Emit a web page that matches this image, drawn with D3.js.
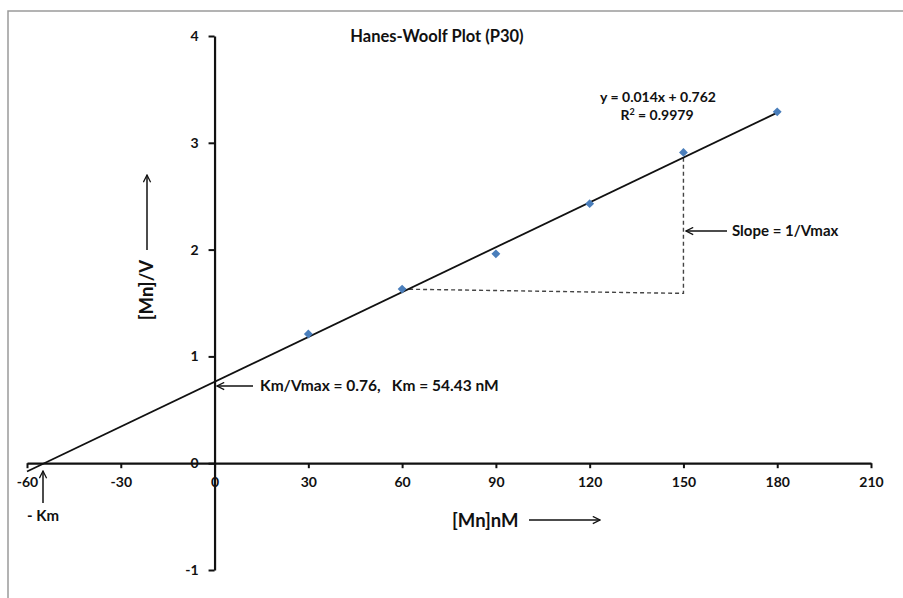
<!DOCTYPE html>
<html>
<head>
<meta charset="utf-8">
<script src="https://cdn.jsdelivr.net/npm/d3@7"></script>
<style>
  body { margin: 0; background: #fff; }
  svg text { font-family: Lato, "Open Sans", sans-serif; font-weight: bold; fill: #111; }
</style>
</head>
<body>
<svg id="chart" width="903" height="598"></svg>
<script>
// Substrate concentration [Mn] (nM) and [Mn]/V values
const concentrations = [30, 60, 90, 120, 150, 180];
const ratioValues = [1.21, 1.63, 1.96, 2.43, 2.91, 3.29];

// Linear fit y = slope * x + intercept
const fitSlope = 0.014;
const fitIntercept = 0.762;
const fitR2 = 0.9979;
const fitRange = [-60, 180];

// Axis ticks
const xTicks = [-60, -30, 0, 30, 60, 90, 120, 150, 180, 210];
const yTicks = [-1, 0, 1, 2, 3, 4];

// Slope triangle corners (x, y)
const triangle = [[60, 1.63], [150, 1.59], [150, 2.91]];

const svg = d3.select("#chart");

const x = d3.scaleLinear().domain([-60, 210]).range([27, 871]);
const y = d3.scaleLinear().domain([-1, 4]).range([570, 36]);

// outer frame (top and left edges visible)
svg.append("path")
  .attr("d", "M8,598 L8,11 L903,11")
  .attr("fill", "none").attr("stroke", "#9a9a9a").attr("stroke-width", 1.5);

svg.append("defs").append("marker")
  .attr("id", "arrow").attr("viewBox", "0 0 10 10")
  .attr("refX", 9).attr("refY", 5)
  .attr("markerWidth", 9).attr("markerHeight", 9)
  .attr("markerUnits", "userSpaceOnUse")
  .attr("orient", "auto")
  .append("path").attr("d", "M1,1 L9,5 L1,9")
  .attr("fill", "none").attr("stroke", "#111").attr("stroke-width", 1.4);

const plain = d => String(d);

// x axis crossing at y = 0
const xAxis = d3.axisBottom(x).tickValues(xTicks).tickFormat(plain)
  .tickSize(5).tickSizeOuter(0).tickPadding(9);
const gx = svg.append("g").attr("transform", `translate(0,${y(0)})`).call(xAxis);
gx.select(".domain").attr("stroke", "#111").attr("stroke-width", 2.2);
gx.selectAll(".tick line").attr("stroke", "#111").attr("stroke-width", 2);
gx.selectAll(".tick text").style("font-size", "14px");

// y axis crossing at x = 0
const yAxis = d3.axisLeft(y).tickValues(yTicks).tickFormat(plain)
  .tickSize(6).tickSizeOuter(0).tickPadding(10);
const gy = svg.append("g").attr("transform", `translate(${x(0)},0)`).call(yAxis);
gy.select(".domain").attr("stroke", "#111").attr("stroke-width", 2.2);
gy.selectAll(".tick line").attr("stroke", "#111").attr("stroke-width", 2);
gy.selectAll(".tick text").style("font-size", "14px");

// slope triangle (dashed)
svg.append("path")
  .attr("d", d3.line().x(d => x(d[0])).y(d => y(d[1]))(triangle))
  .attr("fill", "none").attr("stroke", "#444").attr("stroke-width", 1.4)
  .attr("stroke-dasharray", "4,3");

// trend line
svg.append("line")
  .attr("x1", x(fitRange[0])).attr("y1", y(fitSlope * fitRange[0] + fitIntercept))
  .attr("x2", x(fitRange[1])).attr("y2", y(fitSlope * fitRange[1] + fitIntercept))
  .attr("stroke", "#111").attr("stroke-width", 1.8);

// data points
svg.selectAll(".pt").data(concentrations).enter().append("path")
  .attr("class", "pt")
  .attr("d", d3.symbol().type(d3.symbolDiamond2).size(50))
  .attr("transform", (d, i) => `translate(${x(d)},${y(ratioValues[i])})`)
  .attr("fill", "#4a7ebb");

// title
svg.append("text").attr("x", 437).attr("y", 42).attr("text-anchor", "middle")
  .style("font-size", "16.5px").text("Hanes-Woolf Plot (P30)");

// fit equation
svg.append("text").attr("x", 658).attr("y", 102).attr("text-anchor", "middle")
  .style("font-size", "14px").text(`y = ${fitSlope}x + ${fitIntercept}`);
const r2 = svg.append("text").attr("x", 657).attr("y", 120).attr("text-anchor", "middle")
  .style("font-size", "14px");
r2.append("tspan").text("R");
r2.append("tspan").attr("dy", -5).style("font-size", "9px").text("2");
r2.append("tspan").attr("dy", 5).text(` = ${fitR2}`);

// annotations
function arrow(x1, y1, x2, y2) {
  svg.append("line").attr("x1", x1).attr("y1", y1).attr("x2", x2).attr("y2", y2)
    .attr("stroke", "#111").attr("stroke-width", 1.5).attr("marker-end", "url(#arrow)");
}

arrow(727, 231, 686, 231);
svg.append("text").attr("x", 732).attr("y", 236).style("font-size", "15px").text("Slope = 1/Vmax");

arrow(253, 386, 217, 386);
svg.append("text").attr("x", 260).attr("y", 391).style("font-size", "15.5px")
  .attr("xml:space", "preserve").text("Km/Vmax = 0.76,   Km = 54.43 nM");

arrow(43, 503, 43, 471);
svg.append("text").attr("x", 27).attr("y", 521).style("font-size", "15px").text("- Km");

// axis titles
svg.append("text").attr("x", 452).attr("y", 527).style("font-size", "18.5px").text("[Mn]nM");
arrow(529, 520, 600, 520);

svg.append("text").attr("transform", "translate(153,290) rotate(-90)")
  .attr("text-anchor", "middle").style("font-size", "18.5px").text("[Mn]/V");
arrow(147, 250, 147, 175);
</script>
</body>
</html>
